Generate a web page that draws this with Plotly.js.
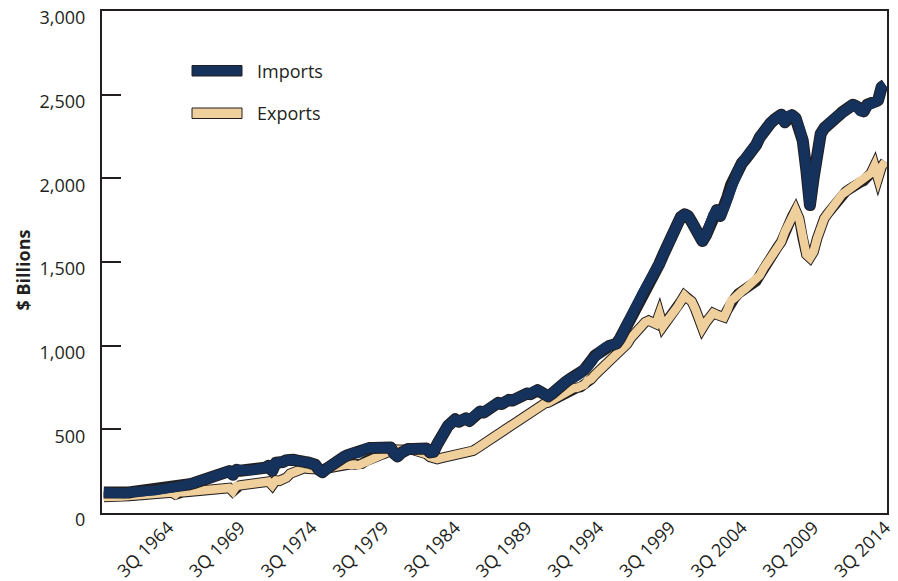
<!DOCTYPE html>
<html>
<head>
<meta charset="utf-8">
<script src="https://cdn.plot.ly/plotly-3.0.1.min.js"></script>
<style>
html,body{margin:0;padding:0;background:#fff;}
#chart{width:898px;height:581px;}
path.js-line{stroke-linejoin:miter !important;stroke-miterlimit:4 !important;}
.scatterlayer .trace:nth-child(3) path.js-line,
.scatterlayer .trace:nth-child(4) path.js-line{stroke-linejoin:round !important;}
</style>
</head>
<body>
<div id="chart"></div>
<script>
// Quarterly series, 1Q 1960 .. 3Q 2014, $ billions
const startYear = 1960;
const lastYear = 2014;
const lastQuarter = 3;

const imports = [
  123,121,118,114, 112,113,118,122, 126,128,129,130, 131,133,134,136, 140,143,146,148,
  150,157,162,167, 172,178,185,190, 194,197,203,212, 222,232,242,250, 228,258,252,254,
  255,256,258,255, 262,270,282,252, 300,297,305,316, 322,318,313,316, 305,302,298,288,
  258,244,262,280, 296,310,322,335, 345,355,362,358, 380,385,388,389, 392,393,396,398,
  392,355,338,360, 378,383,382,385, 378,384,385,362, 365,410,455,492, 520,540,560,545,
  555,566,550,578, 592,606,600,616, 628,640,658,652, 668,676,672,688, 698,704,714,710,
  728,734,722,700, 697,712,735,748, 765,785,800,808, 820,840,855,875, 910,940,960,975,
  990,998,1005,1012, 1042,1080,1120,1165, 1205,1250,1300,1340, 1375,1400,1440,1490, 1540,1590,1640,1690,
  1730,1770,1785,1775, 1740,1700,1650,1625, 1660,1730,1780,1810, 1775,1820,1890,1960, 2015,2050,2090,2115,
  2140,2165,2200,2245, 2280,2310,2330,2350, 2370,2380,2335,2375, 2377,2360,2305,2225, 2050,1840,2000,2165,
  2265,2300,2325,2345, 2360,2375,2395,2410, 2435,2440,2430,2400, 2400,2440,2445,2460, 2465,2545,2560
];

const exportsData = [
  95,98,100,100, 99,99,100,102, 103,106,106,105, 106,110,111,114, 118,120,121,123,
  110,126,124,126, 128,130,132,134, 136,136,137,140, 145,148,152,150, 128,160,165,168,
  172,178,180,178, 182,184,188,165, 195,192,200,212, 235,245,255,265, 268,264,260,262,
  262,260,266,272, 275,280,285,286, 288,292,290,285, 295,310,322,330, 338,345,352,365,
  375,380,378,372, 378,385,380,376, 368,365,352,335, 325,322,328,332, 340,345,350,355,
  358,362,366,372, 385,400,412,425, 440,458,470,480, 500,520,535,548, 565,580,590,605,
  620,630,640,655, 660,672,690,705, 712,722,735,745, 748,752,765,790, 800,825,845,865,
  880,905,925,945, 970,990,1010,1045, 1070,1100,1130,1140, 1150,1145,1130,1190, 1115,1145,1170,1200,
  1230,1265,1300,1280, 1265,1220,1150,1105, 1140,1175,1195,1185, 1175,1170,1215,1270, 1285,1310,1325,1340,
  1360,1375,1385,1420, 1460,1490,1520,1560, 1590,1620,1680,1720, 1770,1810,1760,1640, 1545,1525,1560,1640,
  1710,1760,1790,1820, 1855,1880,1905,1920, 1935,1955,1965,1975, 1985,2000,2030,2075, 2000,2070,2100
];

const tickQuarters = ['1964 Q3','1969 Q3','1974 Q3','1979 Q3','1984 Q3','1989 Q3','1994 Q3','1999 Q3','2004 Q3','2009 Q3','2014 Q3'];
const tickLabels = ['3Q 1964','3Q 1969','3Q 1974','3Q 1979','3Q 1984','3Q 1989','3Q 1994','3Q 1999','3Q 2004','3Q 2009','3Q 2014'];
const yTicks = [0,500,1000,1500,2000,2500,3000];
const seriesNames = ['Imports','Exports'];

// category labels
const quarters = [];
for (let y = startYear; y <= lastYear; y++) {
  for (let q = 1; q <= 4; q++) {
    if (y === lastYear && q > lastQuarter) break;
    quarters.push(y + ' Q' + q);
  }
}

const INK = '#231f20';
const NAVY = '#14325c';
const TAN = '#efcf9c';
const FONT = '"Open Sans", "Noto Sans", sans-serif';

const traces = [
  {x: quarters, y: exportsData, type: 'scatter', mode: 'lines', line: {color: INK, width: 10.5}, hoverinfo: 'skip', showlegend: false},
  {x: quarters, y: exportsData, type: 'scatter', mode: 'lines', name: seriesNames[1], line: {color: TAN, width: 8.5}, showlegend: false},
  {x: quarters, y: imports, type: 'scatter', mode: 'lines', line: {color: INK, width: 12}, hoverinfo: 'skip', showlegend: false},
  {x: quarters, y: imports, type: 'scatter', mode: 'lines', name: seriesNames[0], line: {color: NAVY, width: 10}, showlegend: false}
];

const layout = {
  width: 898, height: 581,
  margin: {l: 102, r: 11, t: 11, b: 68},
  paper_bgcolor: '#ffffff', plot_bgcolor: '#ffffff',
  font: {family: FONT, color: INK, size: 17},
  showlegend: false,
  xaxis: {
    type: 'category',
    range: [-0.5, quarters.length - 0.5],
    tickmode: 'array', tickvals: tickQuarters, ticktext: tickLabels,
    tickangle: -45, ticks: '', showgrid: false, zeroline: false,
    showline: true, linecolor: INK, linewidth: 2, mirror: true,
    ticklabelstandoff: -5,
    tickfont: {family: FONT, size: 18, color: INK}
  },
  yaxis: {
    range: [0, 3000], tickmode: 'array', tickvals: yTicks, tickformat: ',',
    ticks: 'inside', ticklen: 19, tickwidth: 2, tickcolor: INK,
    showgrid: false, zeroline: false,
    showline: true, linecolor: INK, linewidth: 2, mirror: true,
    ticklabelstandoff: 11, ticklabelshift: 7,
    tickfont: {family: FONT, size: 18, color: INK}
  },
  shapes: [
    {type: 'rect', xref: 'paper', yref: 'paper', x0: (192-102)/785, x1: (242-102)/785, y0: (512.5-75.5)/502, y1: (512.5-65)/502, fillcolor: NAVY, line: {color: INK, width: 1}},
    {type: 'rect', xref: 'paper', yref: 'paper', x0: (192-102)/785, x1: (242-102)/785, y0: (512.5-118)/502, y1: (512.5-107.5)/502, fillcolor: TAN, line: {color: INK, width: 1}}
  ],
  annotations: [
    {text: seriesNames[0], xref: 'paper', yref: 'paper', x: (255-102)/785, y: (512.5-70)/502, xanchor: 'left', yanchor: 'middle', showarrow: false, font: {family: FONT, size: 18, color: INK}},
    {text: seriesNames[1], xref: 'paper', yref: 'paper', x: (255-102)/785, y: (512.5-112.5)/502, xanchor: 'left', yanchor: 'middle', showarrow: false, font: {family: FONT, size: 18, color: INK}},
    {text: '<b>$ Billions</b>', xref: 'paper', yref: 'paper', x: (22-102)/785, y: (512.5-270)/502, xanchor: 'center', yanchor: 'middle', textangle: -90, showarrow: false, font: {family: FONT, size: 18, color: INK}}
  ]
};

Plotly.newPlot('chart', traces, layout, {staticPlot: true, displayModeBar: false});
</script>
</body>
</html>
